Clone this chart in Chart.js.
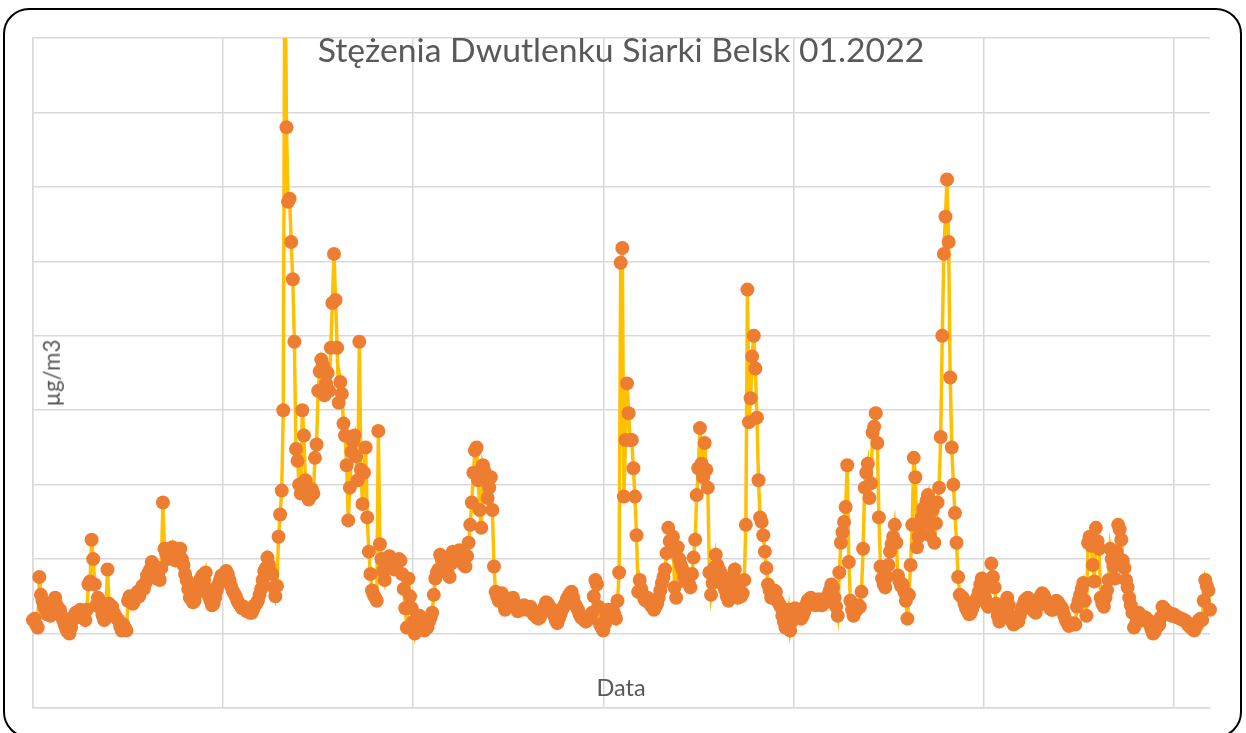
<!DOCTYPE html>
<html>
<head>
<meta charset="utf-8">
<script src="https://cdn.jsdelivr.net/npm/chart.js@4.4.1/dist/chart.umd.min.js"></script>
<style>
  html, body { margin: 0; padding: 0; background: #fff; }
  body { width: 1246px; height: 733px; overflow: hidden; position: relative; }
  .ramka {
    position: absolute; left: 3px; top: 8px; width: 1239px; height: 730px;
    box-sizing: border-box; border: 2px solid #000; border-radius: 26px;
  }
  #wykres { position: absolute; left: 0; top: 0; }
  .napis {
    position: absolute; color: #595959; font-family: Lato, "Open Sans", sans-serif;
    line-height: 1; white-space: nowrap;
  }
  #tytul { font-size: 33px; left: 621px; top: 33px; transform: translateX(-50%); }
  #osX { font-size: 24px; left: 621px; top: 676px; transform: translateX(-50%); }
  #osY { font-size: 24px; left: 52px; top: 373px; transform: translate(-50%, -50%) rotate(-90deg); }
</style>
</head>
<body>
<div class="ramka"></div>
<canvas id="wykres" width="1246" height="733"></canvas>
<div class="napis" id="tytul">Stężenia Dwutlenku Siarki Belsk 01.2022</div>
<div class="napis" id="osY">µg/m3</div>
<div class="napis" id="osX">Data</div>
<script>
// stezenie SO2 [ug/m3], pomiary godzinowe, jeden wiersz = jedna doba
const so2Tydzien1 = [
  5.9,6.0,5.6,5.4,8.8,7.6,7.2,6.8,6.6,6.3,6.9,6.2,6.6,7.1,7.4,6.9,6.5,6.6,6.2,5.9,5.6,5.3,5.1,5.0,
  5.4,5.9,6.2,6.4,6.1,6.5,6.6,6.3,6.1,5.9,6.6,8.3,8.5,11.3,10.0,8.3,6.9,7.4,7.2,6.7,6.2,5.9,6.4,9.3,
  7.0,6.6,6.8,6.4,6.2,6.0,5.9,5.5,5.2,5.6,5.4,5.2,7.2,7.5,7.3,7.0,7.2,7.6,7.8,7.5,7.9,8.2,8.0,8.4,
  8.9,9.1,9.3,9.8,9.6,9.0,8.7,8.9,8.6,9.4,13.8,10.7,10.4,10.0,10.6,10.3,10.8,10.2,9.9,10.1,10.5,10.7,10.0,9.6,
  9.0,8.6,8.0,7.4,7.6,7.1,7.2,7.7,8.2,8.5,8.7,8.9,8.6,9.1,8.0,7.5,7.2,6.9,7.0,7.4,7.9,8.3,8.6,8.9,
  8.7,8.9,9.2,9.0,8.6,8.2,7.9,7.7,7.5,7.2,7.0,6.9,6.7,6.8,6.7,6.5,6.6,6.4,6.4,6.6,6.9,7.0,7.2,7.6,
  8.0,8.6,9.2,9.4,10.1,9.6,9.1,9.0,8.1,7.5,8.2,11.5,13.0,14.6,20.0,52,39.0,34.0,34.2,31.3,28.8,24.6,17.4,16.6
];
const so2Tydzien2 = [
  15.0,14.4,20.0,18.3,15.3,14.6,14.0,14.2,14.7,14.4,16.8,17.7,21.3,22.6,23.4,23.0,21.0,21.8,22.5,21.3,24.2,27.2,30.5,27.4,
  24.2,20.5,21.9,21.1,19.1,18.3,16.3,12.6,14.8,17.2,17.9,18.3,16.9,15.3,24.6,16.0,13.7,15.8,17.5,12.8,10.5,9.0,7.9,7.6,
  7.4,7.2,18.6,11.0,10.0,9.2,8.6,9.4,10.0,10.2,9.8,9.6,9.3,9.5,9.8,10.0,9.9,9.0,8.0,6.7,5.4,8.7,7.5,6.7,
  5.8,5.0,5.6,5.8,6.2,5.9,5.4,5.2,5.5,5.4,5.8,6.1,6.4,7.6,8.7,9.1,9.3,10.3,10.0,9.6,9.8,9.4,9.0,8.8,
  9.7,10.5,10.2,9.9,10.4,10.6,10.1,9.8,9.6,9.5,10.2,11.1,12.3,13.8,15.8,17.3,17.5,15.3,13.3,12.1,16.3,15.9,15.5,14.1,
  14.8,15.5,13.3,9.5,7.8,7.5,7.2,7.5,7.7,7.0,6.6,6.9,7.3,7.1,7.2,7.4,7.0,6.8,6.5,6.6,6.6,6.7,6.9,6.8,
  6.6,6.7,6.8,6.5,6.3,6.2,6.1,6.0,6.1,6.4,6.6,6.8,7.1,7.0,6.8,6.5,6.6,6.2,5.9,5.7,6.0,6.3,6.6,6.8
];
const so2Tydzien3 = [
  7.0,7.3,7.5,7.7,7.8,7.4,7.0,6.8,6.6,6.3,6.1,6.0,5.9,5.8,5.9,6.0,6.1,6.4,7.5,8.6,8.3,6.8,5.6,5.4,
  5.2,5.6,6.2,6.6,6.4,6.5,6.6,6.3,6.0,7.2,9.1,29.9,30.9,14.2,18.0,21.8,19.8,18.0,18.0,16.1,14.2,11.6,7.8,8.6,
  8.0,7.6,7.3,7.2,7.4,7.1,6.9,6.8,6.6,6.8,7.0,7.4,7.9,8.4,8.8,9.3,10.4,12.1,11.2,10.6,11.5,8.1,7.4,10.8,
  10.0,9.6,9.3,8.8,8.5,8.9,8.4,8.1,9.0,10.1,11.3,14.3,16.1,18.8,16.4,15.5,17.8,16.0,14.8,9.1,7.6,8.4,9.4,10.3,
  9.6,9.3,9.1,8.6,8.2,7.9,7.5,7.2,7.6,8.3,8.9,9.3,8.4,7.4,7.8,7.5,7.7,8.6,12.3,28.1,19.2,20.8,23.6,25.0,
  22.8,19.5,15.3,12.8,12.5,11.6,10.5,9.4,8.3,7.9,7.4,7.6,7.9,7.8,7.2,7.0,6.8,6.2,5.8,5.4,5.9,6.6,5.2,5.8,
  6.4,6.7,6.5,6.3,6.1,6.0,6.2,6.5,6.9,7.2,7.3,7.4,7.2,7.0,6.9,7.0,7.3,7.1,6.9,7.0,7.1,7.4,7.6,7.9
];
const so2Tydzien4 = [
  8.3,8.1,7.4,6.8,6.2,9.1,11.1,11.8,12.5,13.5,16.3,9.8,7.2,6.6,6.2,6.5,6.6,6.9,6.8,7.8,10.7,14.8,15.8,16.4,
  14.1,15.1,18.5,18.9,19.8,17.8,12.8,9.5,8.7,8.3,8.1,8.8,9.6,10.5,11.0,11.5,12.3,11.1,8.9,8.5,8.2,8.3,7.8,7.2,
  6.0,7.6,9.6,12.3,16.8,15.5,10.8,11.5,12.2,12.8,13.4,12.6,13.9,14.3,11.6,12.4,13.3,11.1,12.4,13.8,14.8,18.2,25.0,30.5,
  33.0,35.5,31.3,22.2,17.5,15.0,13.1,11.1,8.8,7.6,7.5,7.4,7.0,6.7,6.5,6.3,6.4,6.7,7.0,7.2,7.4,7.8,8.3,8.7,
  8.0,7.4,7.0,6.8,8.2,9.7,8.8,8.1,7.0,6.2,5.8,6.1,6.4,6.6,7.0,7.4,6.9,6.2,5.8,5.6,5.7,5.9,5.8,6.2,
  6.6,6.9,7.2,7.3,7.4,7.1,6.8,6.6,6.5,6.4,6.8,7.2,7.5,7.7,7.6,7.3,7.1,6.9,6.7,6.6,6.6,6.9,7.2,7.1,
  6.9,6.8,6.6,6.2,5.9,5.7,5.5,5.6,5.6,5.7,5.6,6.8,7.2,7.6,8.0,8.4,7.2,6.2,11.1,11.5,10.9,9.6,8.5,12.1
];
const so2Koncowka = [
  11.2,10.7,7.4,7.0,6.8,7.4,7.9,8.6,10.7,10.0,9.5,8.7,10.5,12.3,12.0,11.3,9.9,9.4,8.6,8.1,7.4,6.9,6.4,5.4,
  5.6,6.0,6.4,6.2,6.0,5.9,6.1,6.0,5.9,5.6,5.3,5.0,5.1,5.4,5.5,5.6,6.1,6.8,6.7,6.5,6.3,6.4,6.3,6.2,
  6.3,6.2,6.1,6.1,6.0,6.0,5.9,5.9,5.8,5.6,5.5,5.4,5.3,5.2,5.4,5.6,5.9,6.0,5.9,7.2,8.6,8.2,7.9,6.6
];

const so2 = [...so2Tydzien1, ...so2Tydzien2, ...so2Tydzien3, ...so2Tydzien4, ...so2Koncowka];

const osXMax = 743;   // ostatnia godzina stycznia
const osXKrok = 120;  // linie siatki co 5 dni
const osYMax = 45;
const osYKrok = 5;

const siatka = { color: '#d9d9d9', lineWidth: 1.5, drawTicks: false };
const ramkaOsi = { color: '#d9d9d9', width: 1.5 };

new Chart(document.getElementById('wykres').getContext('2d'), {
  type: 'line',
  data: {
    datasets: [{
      label: 'SO2',
      data: so2.map((v, godz) => ({ x: godz, y: v })),
      borderColor: '#FFC000',
      borderWidth: 3.5,
      pointRadius: 7,
      pointBackgroundColor: '#ED7D31',
      pointBorderColor: '#ED7D31',
      pointBorderWidth: 0,
      tension: 0,
      clip: { left: 10, top: 0, right: 10, bottom: 10 }
    }]
  },
  options: {
    responsive: false,
    animation: false,
    devicePixelRatio: 1,
    layout: { padding: { left: 33, top: 38, right: 36, bottom: 25 } },
    plugins: { legend: { display: false }, tooltip: { enabled: false }, title: { display: false } },
    scales: {
      x: {
        type: 'linear', min: 0, max: osXMax,
        ticks: { display: false, stepSize: osXKrok, includeBounds: false },
        grid: siatka, border: ramkaOsi
      },
      y: {
        min: 0, max: osYMax,
        ticks: { display: false, stepSize: osYKrok },
        grid: siatka, border: ramkaOsi
      }
    }
  }
});

// dopasowanie szerokosci napisow do oryginalu
function dopasuj(id, szer) {
  const el = document.getElementById(id);
  const fs = parseFloat(getComputedStyle(el).fontSize);
  el.style.fontSize = (fs * szer / el.offsetWidth).toFixed(2) + 'px';
}
dopasuj('tytul', 607);
dopasuj('osX', 49);
dopasuj('osY', 67);
</script>
</body>
</html>
